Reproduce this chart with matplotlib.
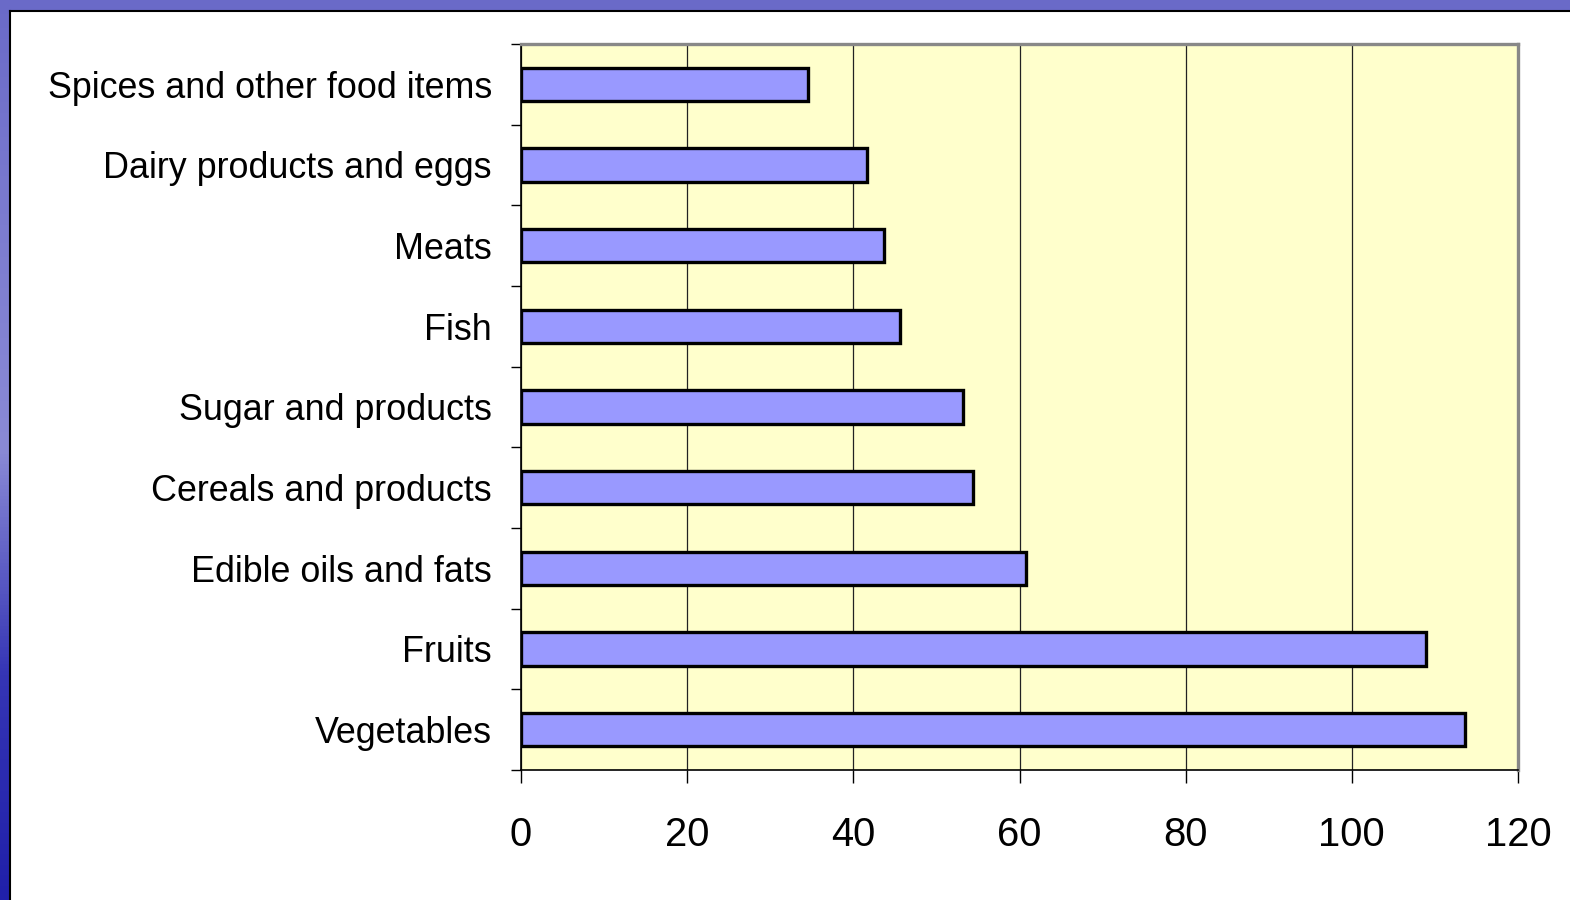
import numpy as np
import matplotlib
matplotlib.use('Agg')
import matplotlib.pyplot as plt
from matplotlib.patches import Rectangle
from matplotlib.lines import Line2D

plt.rcParams['font.family'] = ['Liberation Sans', 'DejaVu Sans']

# categories listed top to bottom
categories = ['Spices and other food items', 'Dairy products and eggs', 'Meats',
              'Fish', 'Sugar and products', 'Cereals and products',
              'Edible oils and fats', 'Fruits', 'Vegetables']
values = [34.5, 41.7, 43.7, 45.6, 53.2, 54.4, 60.8, 108.9, 113.6]
xticks = [0, 20, 40, 60, 80, 100, 120]

fig = plt.figure(figsize=(15.7, 9), dpi=100)

# slide background: blue strips at left and top (dark at bottom, lighter at top)
bg = fig.add_axes([0, 0, 1, 1], zorder=-10)
grad = np.linspace(0, 1, 256).reshape(-1, 1)
bg.imshow(grad, aspect='auto', extent=[0, 1, 0, 1], origin='lower',
          cmap=matplotlib.colors.LinearSegmentedColormap.from_list(
              'slide', ['#2020aa', '#3535b5', '#8a8ad6', '#7c7cd0', '#6a6ac8']))
bg.set_xlim(0, 1)
bg.set_ylim(0, 1)
bg.axis('off')
fig.patches.append(Rectangle((9 / 1570, 0), 1, 1 - 11 / 900, transform=fig.transFigure,
                             facecolor='white', edgecolor='none', zorder=-5))
fig.lines.append(Line2D([9.5 / 1570, 9.5 / 1570], [0, 1 - 11 / 900], transform=fig.transFigure,
                        color='black', lw=1.5))
fig.lines.append(Line2D([9.5 / 1570, 1], [1 - 11 / 900, 1 - 11 / 900], transform=fig.transFigure,
                        color='black', lw=1.5))

ax = fig.add_axes([521 / 1570, 1 - 770 / 900, 997 / 1570, 726 / 900])
ax.set_facecolor('#FFFFCC')

y = np.arange(len(categories))
ax.barh(y, values, height=0.41, color='#9999FF', edgecolor='black', linewidth=2.4, zorder=3)

ax.set_xlim(0, 120)
ax.set_ylim(len(categories) - 0.5, -0.5)
ax.set_xticks(xticks)
ax.set_xticklabels([str(t) for t in xticks], fontsize=28.8)
ax.set_yticks(y)
ax.set_yticklabels(categories, fontsize=25.8)
ax.set_yticks(np.arange(len(categories) + 1) - 0.5, minor=True)
ax.tick_params(axis='y', which='major', length=0, pad=21)
ax.tick_params(axis='y', which='minor', length=7, width=1, direction='out')
ax.tick_params(axis='x', length=9, width=1, direction='out', pad=24)

ax.grid(axis='x', color='#222222', linewidth=0.9, zorder=1)
ax.set_axisbelow(True)

for s in ['top', 'right']:
    ax.spines[s].set_color('#888888')
    ax.spines[s].set_linewidth(2.4)
for s in ['left', 'bottom']:
    ax.spines[s].set_color('black')
    ax.spines[s].set_linewidth(1.2)

fig.savefig('out.png', dpi=100)
